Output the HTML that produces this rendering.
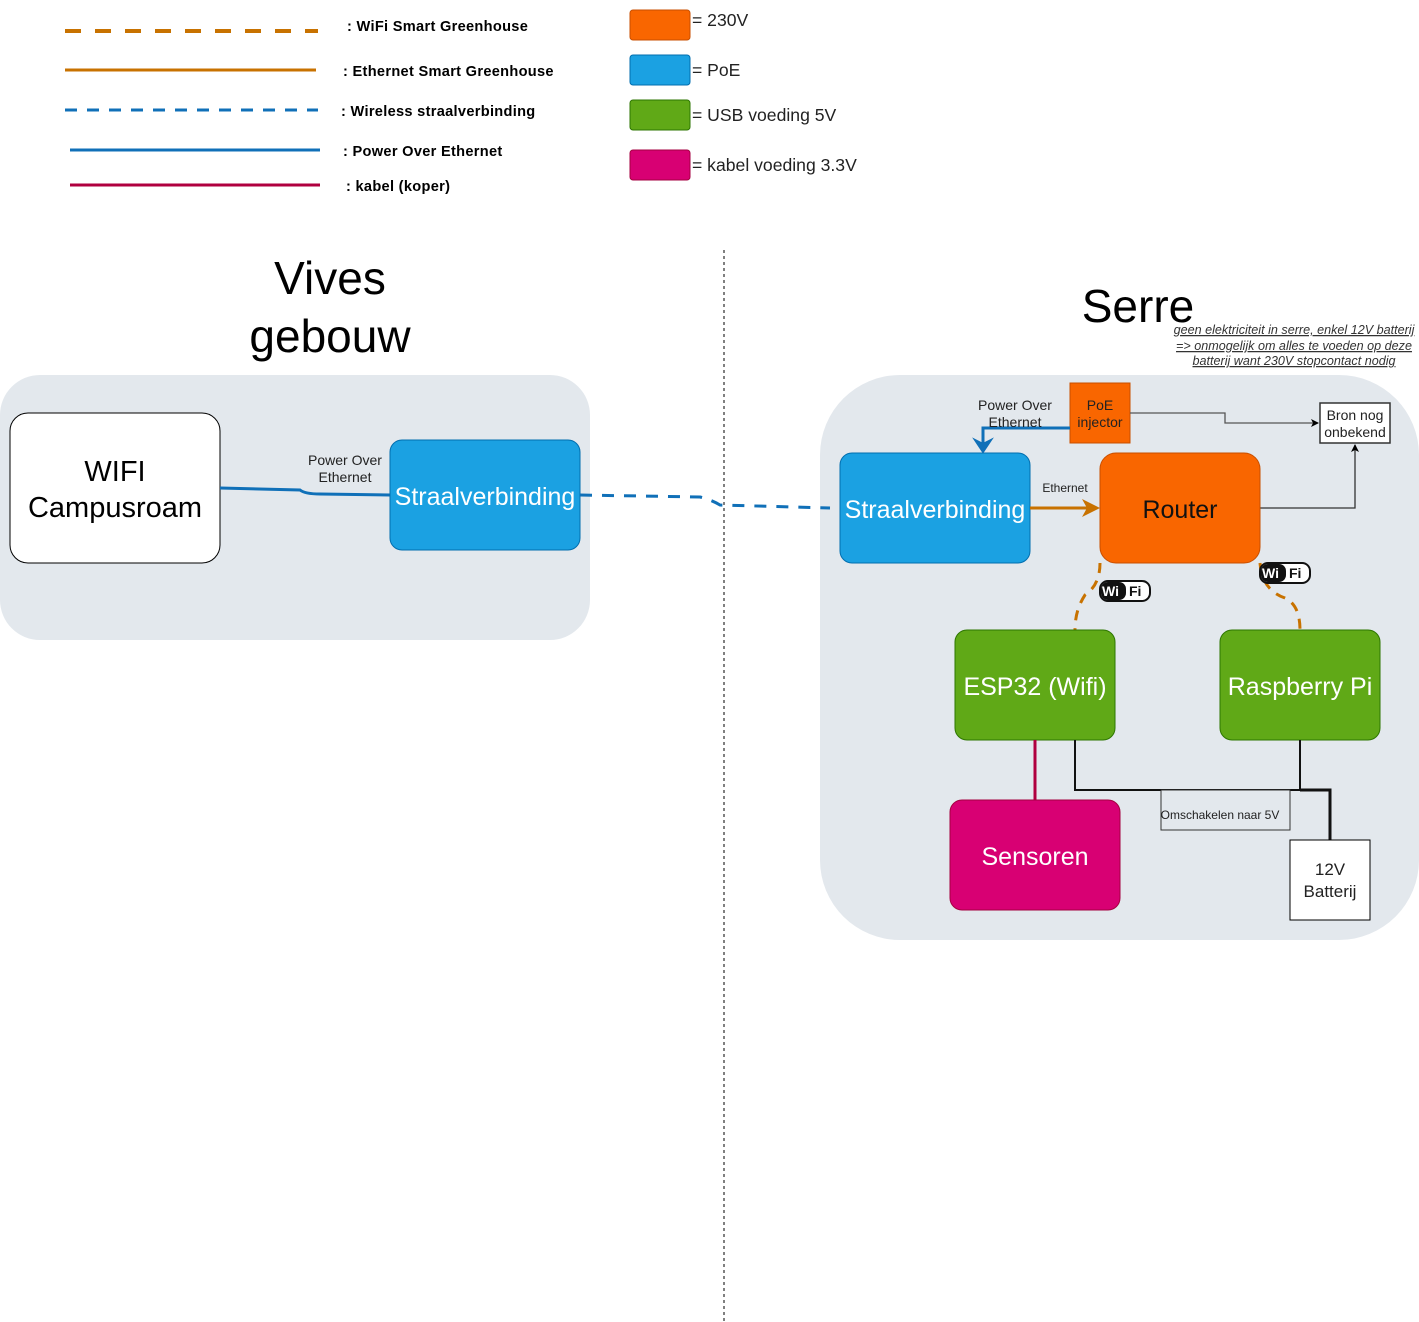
<!DOCTYPE html>
<html><head><meta charset="utf-8"><style>
html,body{margin:0;padding:0;background:#fff;}
svg{display:block;font-family:"Liberation Sans",Arial,sans-serif;}
</style></head><body>
<svg width="1419" height="1322" viewBox="0 0 1419 1322" xmlns="http://www.w3.org/2000/svg">
<defs>
<marker id="ab" markerWidth="8" markerHeight="8" refX="7" refY="4" orient="auto" markerUnits="userSpaceOnUse"><path d="M0,0 L8,4 L0,8 L2,4 z" fill="#000"/></marker>
</defs>
<line x1="65" y1="31" x2="318" y2="31" stroke="#c87200" stroke-width="4" stroke-dasharray="16,14"/>
<line x1="65" y1="70" x2="316" y2="70" stroke="#c87200" stroke-width="3"/>
<line x1="65" y1="110" x2="318" y2="110" stroke="#1070b8" stroke-width="3" stroke-dasharray="12,10"/>
<line x1="70" y1="150" x2="320" y2="150" stroke="#1070b8" stroke-width="3"/>
<line x1="70" y1="185" x2="320" y2="185" stroke="#b0003f" stroke-width="3"/>
<g font-size="14.6" font-weight="bold" fill="#000" letter-spacing="0.3">
<text x="347" y="31">: WiFi Smart Greenhouse</text>
<text x="343" y="76">: Ethernet Smart Greenhouse</text>
<text x="341" y="116">: Wireless straalverbinding</text>
<text x="343" y="156">: Power Over Ethernet</text>
<text x="346" y="191">: kabel (koper)</text>
</g>
<rect x="630" y="10" width="60" height="30" rx="3" fill="#f96600" stroke="#c84f00"/>
<rect x="630" y="55" width="60" height="30" rx="3" fill="#1ba1e2" stroke="#006eaf"/>
<rect x="630" y="100" width="60" height="30" rx="3" fill="#60a917" stroke="#2d7600"/>
<rect x="630" y="150" width="60" height="30" rx="3" fill="#d80073" stroke="#a50040"/>
<g font-size="17.6" fill="#222">
<text x="692" y="26">= 230V</text>
<text x="692" y="76">= PoE</text>
<text x="692" y="121">= USB voeding 5V</text>
<text x="692" y="171">= kabel voeding 3.3V</text>
</g>
<line x1="724" y1="250" x2="724" y2="1322" stroke="#000" stroke-width="1" stroke-dasharray="3,3"/>
<text x="330" y="294" font-size="46" text-anchor="middle">Vives</text>
<text x="330" y="352" font-size="46" text-anchor="middle">gebouw</text>
<text x="1138" y="322" font-size="46" text-anchor="middle">Serre</text>
<g font-size="12.6" font-style="italic" fill="#333" text-anchor="middle" text-decoration="underline">
<text x="1294" y="334">geen elektriciteit in serre, enkel 12V batterij</text>
<text x="1294" y="350">=&gt; onmogelijk om alles te voeden op deze</text>
<text x="1294" y="365">batterij want 230V stopcontact nodig</text>
</g>
<rect x="0" y="375" width="590" height="265" rx="40" fill="#e3e8ed"/>
<rect x="820" y="375" width="599" height="565" rx="80" fill="#e3e8ed"/>
<rect x="10" y="413" width="210" height="150" rx="18" fill="#fff" stroke="#000"/>
<text x="115" y="481" font-size="29" text-anchor="middle">WIFI</text>
<text x="115" y="517" font-size="29" text-anchor="middle">Campusroam</text>
<path d="M220,488 L300,490 Q305,494 320,494 L390,495" fill="none" stroke="#1070b8" stroke-width="3"/>
<text x="345" y="465" font-size="14" text-anchor="middle" fill="#222">Power Over</text>
<text x="345" y="482" font-size="14" text-anchor="middle" fill="#222">Ethernet</text>
<rect x="390" y="440" width="190" height="110" rx="12" fill="#1ba1e2" stroke="#006eaf"/>
<text x="485" y="505" font-size="25" text-anchor="middle" fill="#fff">Straalverbinding</text>
<path d="M580,495 L700,497 Q712,500 720,505 L830,508" fill="none" stroke="#1070b8" stroke-width="3" stroke-dasharray="12,10"/>
<rect x="840" y="453" width="190" height="110" rx="12" fill="#1ba1e2" stroke="#006eaf"/>
<text x="935" y="518" font-size="25" text-anchor="middle" fill="#fff">Straalverbinding</text>
<rect x="1070" y="383" width="60" height="60" fill="#f96600" stroke="#c84f00"/>
<text x="1100" y="410" font-size="14" text-anchor="middle" fill="#222">PoE</text>
<text x="1100" y="427" font-size="14" text-anchor="middle" fill="#222">injector</text>
<path d="M1070,428 L983,428 L983,446" fill="none" stroke="#1070b8" stroke-width="3"/>
<path d="M975,440 L983,452 L991,440 L983,444 z" fill="#1070b8" stroke="#1070b8" stroke-width="2"/>
<text x="1015" y="410" font-size="14" text-anchor="middle" fill="#222">Power Over</text>
<text x="1015" y="427" font-size="14" text-anchor="middle" fill="#222">Ethernet</text>
<rect x="1320" y="403" width="70" height="40" fill="#fff" stroke="#333" stroke-width="1.5"/>
<text x="1355" y="420" font-size="14" text-anchor="middle" fill="#222">Bron nog</text>
<text x="1355" y="437" font-size="14" text-anchor="middle" fill="#222">onbekend</text>
<path d="M1130,413 L1225,413 L1225,423 L1318,423" fill="none" stroke="#555" stroke-width="1.3" marker-end="url(#ab)"/>
<path d="M1260,508 L1355,508 L1355,445" fill="none" stroke="#333" stroke-width="1.3" marker-end="url(#ab)"/>
<rect x="1100" y="453" width="160" height="110" rx="16" fill="#f96600" stroke="#c84f00"/>
<text x="1180" y="518" font-size="25" text-anchor="middle" fill="#111">Router</text>
<line x1="1030" y1="508" x2="1092" y2="508" stroke="#c87200" stroke-width="3"/>
<path d="M1082,499 L1100,508 L1082,517 L1087,508 z" fill="#c87200"/>
<text x="1065" y="492" font-size="12" text-anchor="middle" fill="#222">Ethernet</text>
<path d="M1100,563 Q1100,585 1085,595 Q1075,610 1075,630" fill="none" stroke="#c87200" stroke-width="3" stroke-dasharray="10,8"/>
<path d="M1260,563 Q1262,590 1285,598 Q1300,605 1300,630" fill="none" stroke="#c87200" stroke-width="3" stroke-dasharray="10,8"/>
<g font-size="14" font-weight="bold">
<rect x="1100" y="581" width="50" height="20" rx="8" fill="#fff" stroke="#111" stroke-width="2"/>
<rect x="1101" y="582" width="25" height="18" rx="7" fill="#111"/>
<text x="1102" y="596" fill="#fff">Wi</text><text x="1129" y="596" fill="#111">Fi</text>
<rect x="1260" y="563" width="50" height="20" rx="8" fill="#fff" stroke="#111" stroke-width="2"/>
<rect x="1261" y="564" width="25" height="18" rx="7" fill="#111"/>
<text x="1262" y="578" fill="#fff">Wi</text><text x="1289" y="578" fill="#111">Fi</text>
</g>
<rect x="955" y="630" width="160" height="110" rx="12" fill="#60a917" stroke="#2d7600"/>
<text x="1035" y="695" font-size="25" text-anchor="middle" fill="#fff">ESP32 (Wifi)</text>
<rect x="1220" y="630" width="160" height="110" rx="12" fill="#60a917" stroke="#2d7600"/>
<text x="1300" y="695" font-size="25" text-anchor="middle" fill="#fff">Raspberry Pi</text>
<line x1="1035" y1="740" x2="1035" y2="800" stroke="#b0003f" stroke-width="3"/>
<rect x="950" y="800" width="170" height="110" rx="12" fill="#d80073" stroke="#a50040"/>
<text x="1035" y="865" font-size="25" text-anchor="middle" fill="#fff">Sensoren</text>
<path d="M1075,740 L1075,790 L1300,790 L1300,740" fill="none" stroke="#111" stroke-width="2"/>
<path d="M1300,790 L1330,790 L1330,840" fill="none" stroke="#111" stroke-width="3"/>
<rect x="1161" y="790" width="129" height="40" fill="#e3e8ed" stroke="#333"/>
<text x="1220" y="819" font-size="12" text-anchor="middle" fill="#222">Omschakelen naar 5V</text>
<rect x="1290" y="840" width="80" height="80" fill="#fff" stroke="#000"/>
<text x="1330" y="875" font-size="17" text-anchor="middle" fill="#222">12V</text>
<text x="1330" y="897" font-size="17" text-anchor="middle" fill="#222">Batterij</text>
</svg>
</body></html>
